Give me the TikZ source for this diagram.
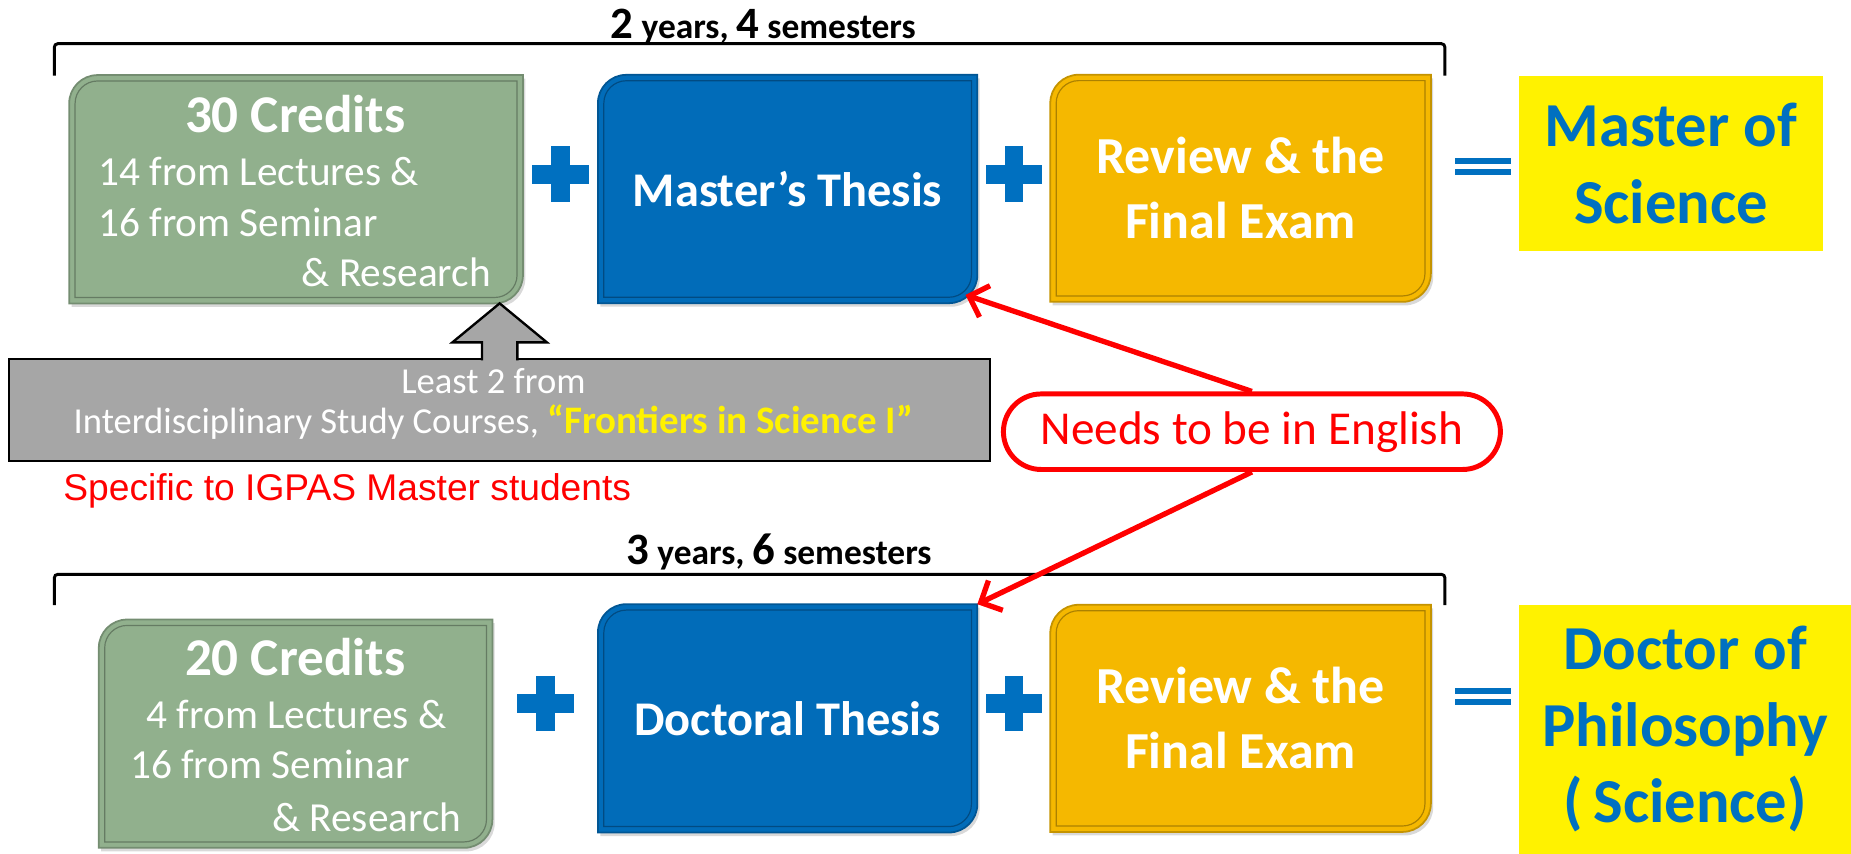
\documentclass[tikz,border=0pt]{standalone}
\usepackage{fontspec}
\setmainfont{Carlito}
\newfontfamily\notefont{Liberation Sans}
\usepackage{xcolor}
\usepackage{tikz}
\usetikzlibrary{shapes,arrows.meta,positioning,backgrounds,shadows}

\definecolor{credgreen}{RGB}{145,176,141}
\definecolor{thesisblue}{RGB}{1,108,185}
\definecolor{examgold}{RGB}{245,184,0}
\definecolor{degblue}{RGB}{0,112,192}
\definecolor{notegrey}{RGB}{166,166,166}

% box outline: round top-left and bottom-right corners, #2 = inset in pt
\newcommand{\diagpath}[2]{([xshift=#2pt]#1.west) -- ([xshift=#2pt,yshift=-24pt]#1.north west) .. controls ([xshift=#2pt,yshift={-24pt+0.55*(24pt-#2pt)}]#1.north west) and ([xshift={24pt-0.55*(24pt-#2pt)},yshift=-#2pt]#1.north west) .. ([xshift=24pt,yshift=-#2pt]#1.north west) -- ([xshift=-#2pt,yshift=-#2pt]#1.north east) -- ([xshift=-#2pt,yshift=24pt]#1.south east) .. controls ([xshift=-#2pt,yshift={24pt-0.55*(24pt-#2pt)}]#1.south east) and ([xshift={-24pt+0.55*(24pt-#2pt)},yshift=#2pt]#1.south east) .. ([xshift=-24pt,yshift=#2pt]#1.south east) -- ([xshift=#2pt,yshift=#2pt]#1.south west) -- cycle}

\begin{document}
\begin{tikzpicture}[
    x=1pt, y=-1pt,
    credit/.style={rectangle, minimum width=#1, minimum height=193pt, inner sep=0pt},
    thesis/.style={rectangle, minimum width=321pt, minimum height=193pt, inner sep=0pt, text=white, font=\bfseries\fontsize{41}{50}\selectfont},
    exam/.style={rectangle, minimum width=322pt, minimum height=192pt, inner sep=0pt, text=white, align=center, font=\bfseries\fontsize{44}{55}\selectfont},
    degree/.style={rectangle, fill=yellow, text=degblue, align=center, inner sep=0pt, font=\bfseries\fontsize{53}{65}\selectfont},
    title/.style={inner sep=0pt, text=white, font=\bfseries\fontsize{45}{54}\selectfont},
    subline/.style={inner sep=0pt, text=white, font=\fontsize{35}{42}\selectfont},
    years/.style={inner sep=0pt, font=\bfseries\fontsize{30}{36}\selectfont},
    bracket/.style={line width=2.5pt, rounded corners=3pt},
    elective/.style={rectangle, draw=black, line width=2pt, fill=notegrey, minimum width=831pt, minimum height=86pt},
    blockarrow/.style={fill=notegrey, draw=black, line width=2pt, line join=miter},
    bubble/.style={rectangle, draw=red, line width=4.2pt, fill=white, rounded corners=32pt, minimum width=421pt, minimum height=64pt, text=red, font=\fontsize{40}{48}\selectfont},
    note/.style={inner sep=0pt, text=red, font=\notefont\fontsize{31.5}{36}\selectfont},
    arrow/.style={line width=4.5pt, red, ->, >={Straight Barb[length=14pt, width=28pt]}}
]
\useasboundingbox (0,0) rectangle (1568,723);

% Master row
\node[credit=384pt] (cred1) at (250.8,160.3) {};
\node[thesis] (master) at (667.2,160.1) {Master's Thesis};
\node[exam] (exam1) at (1050.9,159.5) {Review \& the\\Final Exam};
\node[degree, minimum width=257pt, minimum height=148pt] (msc) at (1415.5,138.4) {Master of\\Science};

\node[title, anchor=base] (cred1title) at (250,112) {30 Credits};
\node[subline, anchor=base west] (cred1a) at (83,157) {14 from Lectures \&};
\node[subline, anchor=base west] (cred1b) at (83,200) {16 from Seminar};
\node[subline, anchor=base east] (cred1c) at (416,243) {\& Research};

% Doctor row
\node[credit=333pt] (cred2) at (250.4,621.5) {};
\node[thesis] (doctoral) at (667.2,608.5) {Doctoral Thesis};
\node[exam] (exam2) at (1050.9,608.5) {Review \& the\\Final Exam};
\node[degree, minimum width=281pt, minimum height=210.5pt] (phd) at (1427.5,617.75) {Doctor of\\Philosophy\\(\,Science)};

\node[title, anchor=base] (cred2title) at (250,572) {20 Credits};
\node[subline, anchor=base west] (cred2a) at (124,616.8) {4 from Lectures \&};
\node[subline, anchor=base west] (cred2b) at (110,659.2) {16 from Seminar};
\node[subline, anchor=base east] (cred2c) at (391,704.5) {\& Research};

% Box shapes
\begin{scope}[on background layer]
\foreach \n/\c in {cred1/credgreen, cred2/credgreen, master/thesisblue, doctoral/thesisblue, exam1/examgold, exam2/examgold} {
  \path[fill=\c, draw=\c!80!black, line width=1.5pt, drop shadow={shadow xshift=2pt, shadow yshift=-3pt, opacity=0.3}] \diagpath{\n}{0};
  \draw[\c!70!black, line width=1pt] \diagpath{\n}{5};
}
\end{scope}

% Plus and equal signs
\foreach \px/\py in {475/147.5, 859/147.5, 462/596, 859/596} {
  \fill[degblue] (\px-24,\py-8) rectangle (\px+24,\py+8);
  \fill[degblue] (\px-8,\py-23.5) rectangle (\px+8,\py+23.5);
}
\foreach \ey in {141,590} {
  \fill[degblue] (1232.6,\ey-7) rectangle (1279.6,\ey-2);
  \fill[degblue] (1232.6,\ey+2) rectangle (1279.6,\ey+7);
}

% Durations
\draw[bracket] (46,64) -- (46,37) -- (1224,37) -- (1224,64);
\node[years, anchor=base] (dur1) at (646.6,32.5) {{\fontsize{38}{40}\selectfont 2} years, {\fontsize{38}{40}\selectfont 4} semesters};
\draw[bracket] (46,512.5) -- (46,486.5) -- (1224,486.5) -- (1224,512.5);
\node[years, anchor=base] (dur2) at (660,478.6) {{\fontsize{38}{40}\selectfont 3} years, {\fontsize{38}{40}\selectfont 6} semesters};

% Interdisciplinary courses
\node[elective] (electives) at (423.25,347.25) {};
\coordinate (tip) at (electives.north |- cred1.south);
\filldraw[blockarrow] ([xshift=-15pt,yshift=-2pt]electives.north) -- ([xshift=-15pt,yshift=-33pt]tip) -- ([xshift=-40pt,yshift=-33pt]tip) -- (tip) -- ([xshift=40pt,yshift=-33pt]tip) -- ([xshift=15pt,yshift=-33pt]tip) -- ([xshift=15pt,yshift=-2pt]electives.north);
\node[inner sep=0pt, text=white, align=center, font=\fontsize{31}{34}\selectfont] (electxt) at (418,342) {Least 2 from\\Interdisciplinary Study Courses, {\bfseries\fontsize{33}{34}\selectfont\color{yellow}“Frontiers in Science I”}};
\node[note, anchor=base west] (igpas) at (53.5,424) {Specific to IGPAS Master students};

% English requirement
\node[bubble] (english) at (1060.5,365.7) {Needs to be in English};
\draw[arrow] (english.north) -- ([xshift=-10pt,yshift=7pt]master.south east);
\draw[arrow] (english.south) -- (doctoral.north east);

\end{tikzpicture}
\end{document}
